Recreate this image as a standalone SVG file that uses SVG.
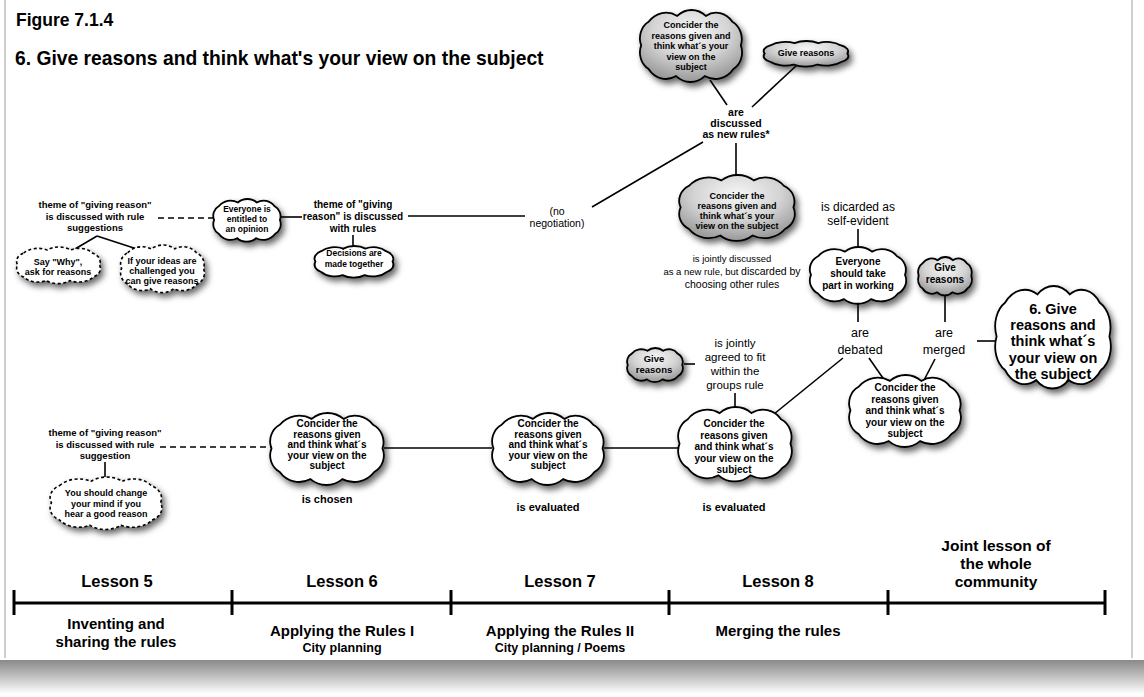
<svg xmlns="http://www.w3.org/2000/svg" xmlns:xlink="http://www.w3.org/1999/xlink" width="1144" height="697" viewBox="0 0 1144 697">
<style>
text{font-family:"Liberation Sans",Arial,Helvetica,sans-serif;fill:#000}
.b{font-weight:bold;text-anchor:middle}
.n{font-weight:normal;text-anchor:middle}
.cw{fill:#fff;stroke:#000;stroke-width:1.8}
.cg{fill:url(#gg);stroke:#000;stroke-width:1.8}
.cd{fill:#fff;stroke:#000;stroke-width:1.6;stroke-dasharray:3 2.5}
.ln{stroke:#000;stroke-width:1.6;fill:none}
.ds{stroke:#000;stroke-width:1.6;fill:none;stroke-dasharray:6 4}
.tl{stroke:#000;stroke-width:3;fill:none}
</style>
<defs>
<radialGradient id="gg" cx="0.5" cy="0.3" r="0.75">
<stop offset="0" stop-color="#f6f6f6"/>
<stop offset="0.5" stop-color="#d4d4d4"/>
<stop offset="1" stop-color="#8e8e8e"/>
</radialGradient>
<linearGradient id="bot" x1="0" y1="0" x2="0" y2="1">
<stop offset="0" stop-color="#8a8a8a"/>
<stop offset="0.35" stop-color="#b0b0b0"/>
<stop offset="1" stop-color="#ffffff"/>
</linearGradient>
<filter id="sh" x="-20%" y="-20%" width="150%" height="170%">
<feDropShadow dx="3" dy="4" stdDeviation="3" flood-color="#000" flood-opacity="0.6"/>
</filter>
<path id="cloud" vector-effect="non-scaling-stroke" d="M10,10 A21.4,21.4 0 0 1 37,5 A20.7,20.7 0 0 1 64,5 A18.8,18.8 0 0 1 89,10 A16.5,16.5 0 0 1 97,30 A16,16 0 0 1 90,50 A21.5,21.5 0 0 1 63,56 A20.7,20.7 0 0 1 36,56 A20.2,20.2 0 0 1 10,50 A16,16 0 0 1 3,30 A16,16 0 0 1 10,10 Z"/>
</defs>
<rect x="0" y="0" width="1144" height="697" fill="#fff"/>
<g id="frame">
<rect x="0" y="660" width="1144" height="34" fill="url(#bot)"/>
<line x1="5" y1="0" x2="5" y2="658" stroke="#cfcfcf" stroke-width="2"/>
<line x1="1132" y1="0" x2="1132" y2="658" stroke="#cfcfcf" stroke-width="2"/>
</g>
<g id="titles">
<text x="16" y="26" style="font-weight:bold;font-size:17.5px">Figure 7.1.4</text>
<text x="15" y="65" style="font-weight:bold;font-size:19.3px">6. Give reasons and think what's your view on the subject</text>
</g>
<g id="connectors">
<line class="ln" x1="710" y1="80" x2="727" y2="105"/>
<line class="ln" x1="797" y1="65" x2="752" y2="107"/>
<line class="ln" x1="736" y1="143" x2="736" y2="177"/>
<line class="ln" x1="592" y1="207" x2="703" y2="142"/>
<line class="ln" x1="858" y1="229" x2="858" y2="250"/>
<line class="ln" x1="945" y1="296" x2="945" y2="322"/>
<line class="ln" x1="858" y1="304" x2="858" y2="322"/>
<line class="ln" x1="977" y1="341" x2="996" y2="341"/>
<line class="ln" x1="869" y1="358" x2="885" y2="381"/>
<line class="ln" x1="935" y1="359" x2="922" y2="384"/>
<line class="ln" x1="843" y1="358" x2="774" y2="414"/>
<line class="ln" x1="735" y1="393" x2="735" y2="408"/>
<line class="ln" x1="684" y1="364" x2="695" y2="364"/>
<line class="ln" x1="604" y1="448" x2="678" y2="448"/>
<line class="ln" x1="384" y1="448" x2="492" y2="448"/>
<line class="ds" x1="160" y1="447" x2="272" y2="447"/>
<line class="ln" x1="105" y1="462" x2="105" y2="478"/>
<line class="ds" x1="158" y1="218" x2="214" y2="218"/>
<line class="ln" x1="281" y1="217" x2="302" y2="217"/>
<line class="ln" x1="408" y1="216" x2="525" y2="216"/>
<line class="ln" x1="353" y1="235" x2="353" y2="252"/>
<line class="ln" x1="97" y1="236" x2="75" y2="249"/>
<line class="ln" x1="97" y1="236" x2="140" y2="250"/>
</g>
<g id="nodeA">
<g filter="url(#sh)"><use href="#cloud" class="cg" transform="translate(638,10) scale(1.06,1.18)"/></g>
<text class="b" style="font-size:9px"><tspan x="691" y="28">Concider the</tspan><tspan x="691" y="38.5">reasons given and</tspan><tspan x="691" y="49">think what´s your</tspan><tspan x="691" y="59.5">view on the</tspan><tspan x="691" y="70">subject</tspan></text>
</g>
<g id="nodeB">
<g filter="url(#sh)"><use href="#cloud" class="cg" transform="translate(762,41) scale(0.88,0.42)"/></g>
<text class="b" x="806" y="56" style="font-size:9px">Give reasons</text>
</g>
<g id="labelDiscussed">
<text class="b" style="font-size:10.5px"><tspan x="736" y="116">are</tspan><tspan x="736" y="127">discussed</tspan><tspan x="736" y="138">as new rules*</tspan></text>
</g>
<g id="nodeC">
<g filter="url(#sh)"><use href="#cloud" class="cg" transform="translate(677,175) scale(1.2,1.08)"/></g>
<text class="b" style="font-size:9px"><tspan x="737" y="199">Concider the</tspan><tspan x="737" y="209">reasons given and</tspan><tspan x="737" y="219">think what´s your</tspan><tspan x="737" y="229">view on the subject</tspan></text>
</g>
<g id="labelJointly">
<text class="n" style="font-size:9.5px"><tspan x="732" y="262">is jointly discussed</tspan><tspan x="732" y="275">as a new rule, but <tspan style="font-size:10.5px">discarded by</tspan></tspan><tspan x="732" y="288" style="font-size:10.5px">choosing other rules</tspan></text>
</g>
<g id="labelNoNeg">
<text class="n" style="font-size:10.5px"><tspan x="557" y="215">(no</tspan><tspan x="557" y="226.5">negotiation)</tspan></text>
</g>
<g id="labelDiscarded">
<text class="n" style="font-size:12px"><tspan x="858" y="211">is dicarded as</tspan><tspan x="858" y="224.5">self-evident</tspan></text>
</g>
<g id="nodeD">
<g filter="url(#sh)"><use href="#cloud" class="cw" transform="translate(808,247) scale(1.0,0.93)"/></g>
<text class="b" style="font-size:10px"><tspan x="858" y="265">Everyone</tspan><tspan x="858" y="277">should take</tspan><tspan x="858" y="289">part in working</tspan></text>
</g>
<g id="nodeE">
<g filter="url(#sh)"><use href="#cloud" class="cg" transform="translate(917,257) scale(0.56,0.63)"/></g>
<text class="b" style="font-size:10px"><tspan x="945" y="271">Give</tspan><tspan x="945" y="283">reasons</tspan></text>
</g>
<g id="labelDebated">
<text class="n" style="font-size:12.5px"><tspan x="860" y="337">are</tspan><tspan x="860" y="354">debated</tspan></text>
</g>
<g id="labelMerged">
<text class="n" style="font-size:12.5px"><tspan x="944" y="337">are</tspan><tspan x="944" y="354">merged</tspan></text>
</g>
<g id="nodeF">
<g filter="url(#sh)"><use href="#cloud" class="cw" transform="translate(993,286) scale(1.2,1.68)"/></g>
<text class="b" style="font-size:14.5px"><tspan x="1053" y="314">6. Give</tspan><tspan x="1053" y="330">reasons and</tspan><tspan x="1053" y="346">think what´s</tspan><tspan x="1053" y="363">your view on</tspan><tspan x="1053" y="379">the subject</tspan></text>
</g>
<g id="nodeG">
<g filter="url(#sh)"><use href="#cloud" class="cw" transform="translate(847,375) scale(1.16,1.18)"/></g>
<text class="b" style="font-size:10px"><tspan x="905" y="391">Concider the</tspan><tspan x="905" y="402.5">reasons given</tspan><tspan x="905" y="414">and think what´s</tspan><tspan x="905" y="425.5">your view on the</tspan><tspan x="905" y="437">subject</tspan></text>
</g>
<g id="labelAgreed">
<text class="n" style="font-size:11.5px"><tspan x="735" y="347">is jointly</tspan><tspan x="735" y="361">agreed to fit</tspan><tspan x="735" y="375">within the</tspan><tspan x="735" y="389">groups rule</tspan></text>
</g>
<g id="nodeI">
<g filter="url(#sh)"><use href="#cloud" class="cg" transform="translate(626,348) scale(0.58,0.56)"/></g>
<text class="b" style="font-size:9.5px"><tspan x="654" y="362">Give</tspan><tspan x="654" y="373">reasons</tspan></text>
</g>
<g id="nodeH">
<g filter="url(#sh)"><use href="#cloud" class="cw" transform="translate(676,407) scale(1.18,1.22)"/></g>
<text class="b" style="font-size:10px"><tspan x="734" y="427">Concider the</tspan><tspan x="734" y="438.5">reasons given</tspan><tspan x="734" y="450">and think what´s</tspan><tspan x="734" y="461.5">your view on the</tspan><tspan x="734" y="473">subject</tspan></text>
<text class="b" x="734" y="511" style="font-size:11px">is evaluated</text>
</g>
<g id="nodeJ">
<g filter="url(#sh)"><use href="#cloud" class="cw" transform="translate(490,413) scale(1.16,1.18)"/></g>
<text class="b" style="font-size:10px"><tspan x="548" y="427">Concider the</tspan><tspan x="548" y="437.5">reasons given</tspan><tspan x="548" y="448">and think what´s</tspan><tspan x="548" y="458.5">your view on the</tspan><tspan x="548" y="469">subject</tspan></text>
<text class="b" x="548" y="511" style="font-size:11px">is evaluated</text>
</g>
<g id="nodeK">
<g filter="url(#sh)"><use href="#cloud" class="cw" transform="translate(268,413) scale(1.18,1.18)"/></g>
<text class="b" style="font-size:10px"><tspan x="327" y="427">Concider the</tspan><tspan x="327" y="437.5">reasons given</tspan><tspan x="327" y="448">and think what´s</tspan><tspan x="327" y="458.5">your view on the</tspan><tspan x="327" y="469">subject</tspan></text>
<text class="b" x="327" y="503" style="font-size:11px">is chosen</text>
</g>
<g id="labelSuggestion">
<text class="b" style="font-size:9.5px"><tspan x="105" y="436">theme of "giving reason"</tspan><tspan x="105" y="447.5">is discussed with rule</tspan><tspan x="105" y="459">suggestion</tspan></text>
</g>
<g id="nodeL">
<g filter="url(#sh)"><use href="#cloud" class="cd" transform="translate(48,477) scale(1.16,0.86)"/></g>
<text class="b" style="font-size:9px"><tspan x="106" y="496">You should change</tspan><tspan x="106" y="506.5">your mind if you</tspan><tspan x="106" y="517">hear a good reason</tspan></text>
</g>
<g id="labelSuggestions">
<text class="b" style="font-size:9.5px"><tspan x="95" y="208">theme of "giving reason"</tspan><tspan x="95" y="219.5">is discussed with rule</tspan><tspan x="95" y="231">suggestions</tspan></text>
</g>
<g id="nodeP">
<g filter="url(#sh)"><use href="#cloud" class="cd" transform="translate(15,247) scale(0.87,0.6)"/></g>
<text class="b" style="font-size:9px"><tspan x="58" y="265">Say "Why",</tspan><tspan x="58" y="275">ask for reasons</tspan></text>
</g>
<g id="nodeQ">
<g filter="url(#sh)"><use href="#cloud" class="cd" transform="translate(119,245) scale(0.87,0.78)"/></g>
<text class="b" style="font-size:9px"><tspan x="162" y="264">If your ideas are</tspan><tspan x="162" y="274">challenged you</tspan><tspan x="162" y="284">can give reasons</tspan></text>
</g>
<g id="nodeM">
<g filter="url(#sh)"><use href="#cloud" class="cw" transform="translate(212,199) scale(0.7,0.7)"/></g>
<text class="b" style="font-size:8.5px"><tspan x="247" y="212">Everyone is</tspan><tspan x="247" y="222">entitled to</tspan><tspan x="247" y="232">an opinion</tspan></text>
</g>
<g id="labelRules">
<text class="b" style="font-size:10px"><tspan x="353" y="208">theme of "giving</tspan><tspan x="353" y="220">reason" is discussed</tspan><tspan x="353" y="231.5">with rules</tspan></text>
</g>
<g id="nodeO">
<g filter="url(#sh)"><use href="#cloud" class="cw" transform="translate(313,246) scale(0.82,0.52)"/></g>
<text class="b" style="font-size:8.5px"><tspan x="354" y="256">Decisions are</tspan><tspan x="354" y="266.5">made together</tspan></text>
</g>
<g id="timeline">
<line class="tl" x1="14" y1="603" x2="1105" y2="603"/>
<line class="tl" x1="14" y1="590" x2="14" y2="615"/>
<line class="tl" x1="232" y1="590" x2="232" y2="615"/>
<line class="tl" x1="451" y1="590" x2="451" y2="615"/>
<line class="tl" x1="669" y1="590" x2="669" y2="615"/>
<line class="tl" x1="888" y1="590" x2="888" y2="615"/>
<line class="tl" x1="1105" y1="590" x2="1105" y2="615"/>
<text class="b" x="117" y="587" style="font-size:16.5px">Lesson 5</text>
<text class="b" x="342" y="587" style="font-size:16.5px">Lesson 6</text>
<text class="b" x="560" y="587" style="font-size:16.5px">Lesson 7</text>
<text class="b" x="778" y="587" style="font-size:16.5px">Lesson 8</text>
<text class="b" style="font-size:15.5px"><tspan x="996" y="551">Joint lesson of</tspan><tspan x="996" y="569">the whole</tspan><tspan x="996" y="587">community</tspan></text>
<text class="b" style="font-size:15px"><tspan x="116" y="629">Inventing and</tspan><tspan x="116" y="647">sharing the rules</tspan></text>
<text class="b" x="342" y="636" style="font-size:15px">Applying the Rules I</text>
<text class="b" x="342" y="652" style="font-size:12.5px">City planning</text>
<text class="b" x="560" y="636" style="font-size:15px">Applying the Rules II</text>
<text class="b" x="560" y="652" style="font-size:12.5px">City planning /  Poems</text>
<text class="b" x="778" y="636" style="font-size:15px">Merging the rules</text>
</g>
</svg>
